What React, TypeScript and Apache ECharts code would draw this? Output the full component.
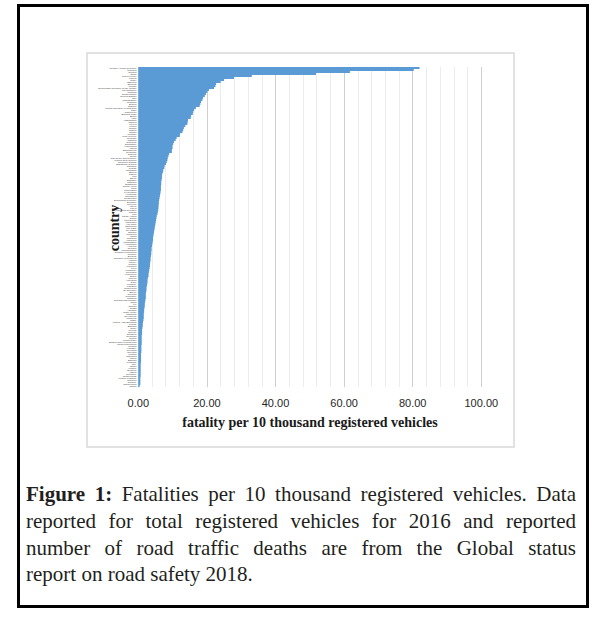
import React, { useEffect, useRef } from "react";
import * as echarts from "echarts";

const countries: string[] = [
  "Central African Republic", "Somalia", "Guinea", "Chad", "Sierra Leone", "Liberia", "Niger", "Ethiopia",
  "Burundi", "Malawi", "Democratic Republic of the Congo", "Mozambique", "Uganda", "South Sudan", "Guinea-Bissau", "Mali",
  "Madagascar", "Rwanda", "Eritrea", "Zambia", "United Republic of Tanzania", "Togo", "Cameroon", "Burkina Faso",
  "Benin", "Haiti", "Afghanistan", "Nigeria", "Kenya", "Yemen", "Sudan", "Ghana",
  "Congo", "Lesotho", "Côte d'Ivoire", "Senegal", "Gambia", "Comoros", "Zimbabwe", "Mauritania",
  "Angola", "Bangladesh", "Myanmar", "Djibouti", "Nepal", "Sao Tome and Principe", "Papua New Guinea", "Solomon Islands",
  "Equatorial Guinea", "Pakistan", "Kiribati", "Tajikistan", "Bolivia", "Gabon", "Iraq", "Egypt",
  "Eswatini", "Namibia", "Botswana", "South Africa", "India", "Uzbekistan", "Kyrgyzstan", "Honduras",
  "Nicaragua", "Guatemala", "Dominican Republic", "Ecuador", "Morocco", "Algeria", "Libya", "Syrian Arab Republic",
  "Jordan", "Iran", "Saudi Arabia", "Oman", "Philippines", "Indonesia", "Viet Nam", "Cambodia",
  "Lao PDR", "Sri Lanka", "Bhutan", "Mongolia", "China", "Thailand", "Malaysia", "Kazakhstan",
  "Azerbaijan", "Armenia", "Georgia", "Turkmenistan", "Russian Federation", "Ukraine", "Belarus", "Republic of Moldova",
  "Albania", "Turkey", "Tunisia", "Lebanon", "Peru", "Paraguay", "Colombia", "Venezuela",
  "Brazil", "Mexico", "Argentina", "Chile", "Uruguay", "Panama", "Costa Rica", "El Salvador",
  "Belize", "Guyana", "Suriname", "Jamaica", "Trinidad and Tobago", "Cuba", "Fiji", "Samoa",
  "Tonga", "Vanuatu", "Cabo Verde", "Mauritius", "Seychelles", "Maldives", "Qatar", "United Arab Emirates",
  "Kuwait", "Bahrain", "Israel", "Cyprus", "Greece", "Bulgaria", "Romania", "Serbia",
  "Montenegro", "Bosnia and Herzegovina", "North Macedonia", "Croatia", "Hungary", "Slovakia", "Czechia", "Poland",
  "Lithuania", "Latvia", "Estonia", "Portugal", "Italy", "Spain", "France", "Belgium",
  "Austria", "Germany", "Netherlands", "United Kingdom", "Sweden", "Norway", "Switzerland", "Japan",
];

const fatalities: number[] = [
  82.0, 80.3, 61.7, 51.8, 33.1, 27.9,
  25.0, 24.0, 22.7, 22.5, 22.1, 20.6, 20.1, 19.7, 19.4, 18.9, 18.7, 18.3, 18.1, 17.9,
  16.8, 16.3, 16.0, 15.9, 15.4, 15.3, 14.5, 14.4, 14.3, 13.7, 13.3, 13.1, 12.9, 12.2,
  12.1, 11.2, 10.9, 10.4, 10.2, 10.0, 10.0, 9.8, 9.8, 9.0, 8.8,
  8.6, 8.5, 8.3, 8.1, 7.7, 7.6, 7.3, 7.2, 7.0, 6.9, 6.9, 6.8, 6.7, 6.7, 6.6, 6.6, 6.6,
  6.5, 6.4, 6.3, 6.2, 6.1, 6.0, 6.0, 5.9, 5.9, 5.8, 5.7, 5.6, 5.4, 5.3, 5.2, 5.1, 5.0,
  4.9, 4.8, 4.7, 4.6, 4.5, 4.4, 4.3, 4.3, 4.2, 4.1, 4.0, 3.9, 3.9, 3.8, 3.8, 3.7, 3.6, 3.6,
  3.5, 3.4, 3.4, 3.3, 3.2, 3.1, 3.0, 3.0, 2.8, 2.7, 2.7, 2.6, 2.5, 2.4, 2.4,
  2.3, 2.2, 2.2, 2.2, 2.1, 2.0, 1.9, 1.9, 1.8, 1.7, 1.7, 1.6, 1.6, 1.6, 1.5,
  1.4, 1.3, 1.3, 1.2, 1.1, 1.1, 1.1, 1.0, 1.0, 1.0, 1.0, 1.0, 0.9, 0.9, 0.9, 0.9,
  0.8, 0.8, 0.8, 0.8, 0.8, 0.7, 0.7, 0.7, 0.7, 0.7, 0.7, 0.7, 0.6, 0.6, 0.6, 0.6, 0.4,
];

const xTicks: number[] = [0, 20, 40, 60, 80, 100];

const xAxisTitle = "fatality per 10 thousand registered vehicles";
const yAxisTitle = "country";

const captionLines: string[] = [
  "Figure 1: Fatalities per 10 thousand registered vehicles. Data",
  "reported for total registered vehicles for 2016 and reported",
  "number of road traffic deaths are from the Global status",
  "report on road safety 2018.",
];

const CAP_FONT = '"Liberation Serif", serif';
const CAP_SIZE = 21;

function buildCaption(): any[] {
  const canvas = document.createElement("canvas");
  const ctx = canvas.getContext("2d")!;
  const left = 26;
  const right = 576;
  const width = right - left;
  const out: any[] = [];
  captionLines.forEach((line, li) => {
    const words = line.split(" ");
    const items = words.map((w, wi) => {
      const bold = li === 0 && wi < 2;
      const font = `${bold ? "bold " : ""}${CAP_SIZE}px ${CAP_FONT}`;
      ctx.font = font;
      return { w, bold, font, width: ctx.measureText(w).width };
    });
    const total = items.reduce((s, it) => s + it.width, 0);
    ctx.font = `${CAP_SIZE}px ${CAP_FONT}`;
    const spaceW = ctx.measureText(" ").width;
    const last = li === captionLines.length - 1;
    const gap = last ? spaceW : (width - total) / (items.length - 1);
    let x = left;
    const y = 494 + li * 26.8;
    items.forEach((it) => {
      out.push({
        type: "text",
        x,
        y,
        style: {
          text: it.w,
          font: it.font,
          fill: "#231f20",
          align: "left",
          verticalAlign: "middle",
        },
      });
      x += it.width + gap;
    });
  });
  return out;
}

export default function App() {
  const ref = useRef<HTMLDivElement>(null);
  useEffect(() => {
    if (!ref.current) return;
    const chart = echarts.init(ref.current, null, { renderer: "svg" });
    const n = Math.min(countries.length, fatalities.length);
    const cats = countries.slice(0, n);
    const vals = fatalities.slice(0, n);
    chart.setOption({
      animation: false,
      backgroundColor: "#ffffff",
      grid: { left: 138.3, right: 129.7, top: 67, bottom: 242, containLabel: false },
      xAxis: {
        type: "value",
        min: xTicks[0],
        max: xTicks[xTicks.length - 1],
        interval: 20,
        axisLine: { show: false },
        axisTick: { show: false },
        axisLabel: {
          formatter: (v: number) => v.toFixed(2),
          fontFamily: '"Liberation Sans", sans-serif',
          fontSize: 11,
          color: "#262626",
          margin: 10,
        },
        splitLine: { show: true, lineStyle: { color: "#cfcfcf", width: 1 } },
        minorTick: { show: false, splitNumber: 5 },
        minorSplitLine: { show: true, lineStyle: { color: "#ececec", width: 1 } },
      },
      yAxis: {
        type: "category",
        data: cats,
        inverse: true,
        axisLine: { show: true, lineStyle: { color: "#d9d9d9" } },
        axisTick: { show: false },
        axisLabel: {
          interval: 0,
          fontSize: 2.5,
          color: "#404040",
          margin: 2,
          fontFamily: '"Liberation Sans", sans-serif',
        },
        splitLine: { show: false },
      },
      series: [
        {
          type: "bar",
          data: vals,
          barCategoryGap: "0%",
          itemStyle: { color: "#5b9bd5" },
          silent: true,
        },
      ],
      graphic: [
        {
          type: "rect",
          shape: { x: 18.5, y: 5.5, width: 569, height: 601 },
          style: { fill: "none", stroke: "#000000", lineWidth: 3 },
          silent: true,
        },
        {
          type: "rect",
          shape: { x: 87, y: 53, width: 427, height: 394 },
          style: { fill: "none", stroke: "#d9d9d9", lineWidth: 1.5 },
          silent: true,
        },
        {
          type: "text",
          x: 114,
          y: 228,
          rotation: Math.PI / 2,
          style: {
            text: yAxisTitle,
            font: 'bold 14px "Liberation Serif", serif',
            fill: "#1a1a1a",
            align: "center",
            verticalAlign: "middle",
          },
        },
        {
          type: "text",
          x: 310,
          y: 422,
          style: {
            text: xAxisTitle,
            font: 'bold 14px "Liberation Serif", serif',
            fill: "#1a1a1a",
            align: "center",
            verticalAlign: "middle",
          },
        },
        ...buildCaption(),
      ],
    });
    return () => chart.dispose();
  }, []);
  return (
    <div
      ref={ref}
      style={{ position: "fixed", left: 0, top: 0, width: 611, height: 629, background: "#fff" }}
    />
  );
}
